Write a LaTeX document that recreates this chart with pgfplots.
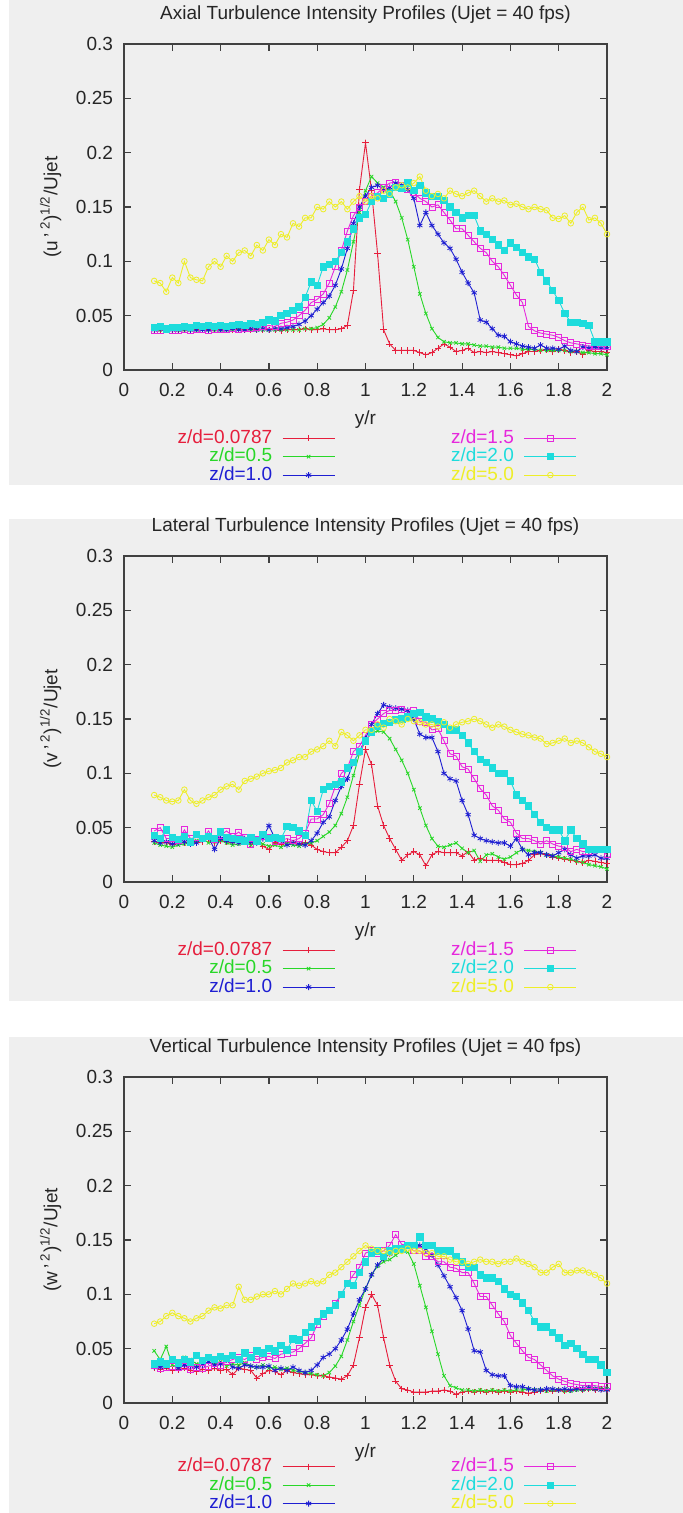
\documentclass[border=0pt]{standalone}
\usepackage{fontspec}
\setmainfont{Liberation Sans}
\usepackage{pgfplots}
\usepackage{pgfplotstable}
\pgfplotsset{compat=1.18}
\definecolor{gpred}{RGB}{230,30,60}
\definecolor{gpgreen}{RGB}{40,215,40}
\definecolor{gpblue}{RGB}{30,30,210}
\definecolor{gpmag}{RGB}{230,40,220}
\definecolor{gpcyan}{RGB}{30,220,220}
\definecolor{gpyel}{RGB}{238,238,40}
\definecolor{panelbg}{RGB}{239,239,239}

% columns: x  z/d=0.0787  0.5  1.0  1.5  2.0  5.0
\pgfplotstableread{
x r g b m c y
0.125 .037 .038 .037 .036 .039 .082
0.150 .037 .037 .038 .036 .040 .080
0.175 .037 .037 .037 .037 .038 .072
0.200 .037 .038 .037 .036 .039 .085
0.225 .037 .037 .037 .036 .039 .080
0.250 .037 .037 .038 .037 .040 .100
0.275 .037 .037 .037 .036 .039 .085
0.300 .037 .037 .037 .037 .041 .083
0.325 .037 .038 .037 .037 .040 .082
0.350 .037 .037 .037 .036 .041 .095
0.375 .037 .037 .038 .037 .040 .100
0.400 .037 .037 .037 .037 .041 .095
0.425 .037 .037 .037 .037 .040 .105
0.450 .037 .037 .038 .038 .041 .100
0.475 .037 .038 .037 .037 .042 .108
0.500 .037 .037 .037 .038 .041 .110
0.525 .037 .037 .038 .038 .043 .105
0.550 .037 .037 .037 .039 .042 .115
0.575 .037 .037 .038 .040 .044 .110
0.600 .037 .037 .037 .041 .046 .120
0.625 .037 .037 .038 .040 .045 .115
0.650 .036 .037 .038 .043 .050 .125
0.675 .037 .037 .039 .044 .052 .122
0.700 .037 .037 .040 .046 .055 .135
0.725 .037 .037 .042 .050 .058 .132
0.750 .038 .038 .045 .055 .067 .140
0.775 .037 .038 .050 .062 .081 .140
0.800 .037 .039 .056 .065 .078 .150
0.825 .038 .042 .062 .070 .095 .148
0.850 .037 .048 .068 .080 .097 .155
0.875 .037 .058 .078 .095 .100 .150
0.900 .038 .072 .093 .110 .108 .155
0.925 .041 .092 .112 .128 .118 .148
0.950 .073 .118 .135 .142 .130 .155
0.975 .166 .145 .150 .150 .140 .160
1.000 .209 .165 .160 .155 .143 .155
1.025 .165 .178 .168 .160 .155 .160
1.050 .107 .172 .170 .163 .160 .158
1.075 .037 .168 .166 .168 .158 .165
1.100 .024 .165 .168 .172 .162 .162
1.125 .018 .155 .172 .173 .168 .168
1.150 .018 .140 .170 .170 .167 .170
1.175 .018 .120 .166 .166 .172 .168
1.200 .018 .095 .158 .163 .165 .172
1.225 .016 .070 .133 .158 .170 .178
1.250 .014 .052 .145 .155 .163 .165
1.275 .016 .038 .133 .150 .160 .160
1.300 .020 .030 .125 .152 .160 .162
1.325 .024 .026 .117 .145 .156 .158
1.350 .021 .025 .112 .138 .150 .165
1.375 .017 .025 .102 .130 .145 .162
1.400 .018 .024 .090 .130 .140 .160
1.425 .020 .024 .080 .124 .142 .163
1.450 .016 .023 .071 .118 .142 .165
1.475 .017 .022 .046 .112 .128 .160
1.500 .016 .022 .044 .108 .125 .155
1.525 .017 .021 .038 .100 .120 .158
1.550 .016 .021 .032 .095 .115 .155
1.575 .015 .020 .031 .087 .110 .156
1.600 .014 .020 .026 .078 .117 .152
1.625 .013 .020 .024 .069 .113 .153
1.650 .015 .019 .022 .062 .108 .150
1.675 .017 .019 .021 .040 .104 .148
1.700 .017 .019 .020 .036 .102 .150
1.725 .018 .018 .023 .034 .090 .148
1.750 .019 .018 .020 .033 .082 .147
1.775 .017 .018 .020 .032 .073 .140
1.800 .019 .018 .019 .030 .064 .139
1.825 .018 .018 .022 .027 .052 .142
1.850 .016 .017 .018 .025 .044 .135
1.875 .017 .017 .017 .024 .044 .145
1.900 .014 .016 .021 .023 .043 .150
1.925 .018 .016 .020 .022 .041 .138
1.950 .017 .015 .021 .022 .026 .140
1.975 .017 .015 .020 .022 .026 .135
2.000 .016 .014 .020 .022 .026 .125
}\tabU

\pgfplotstableread{
x r g b m c y
0.125 .037 .036 .038 .047 .043 .080
0.150 .036 .034 .036 .050 .040 .078
0.175 .036 .033 .037 .040 .048 .075
0.200 .035 .032 .035 .040 .041 .074
0.225 .037 .034 .036 .038 .039 .075
0.250 .036 .035 .037 .048 .042 .085
0.275 .038 .036 .035 .040 .037 .075
0.300 .036 .038 .036 .041 .044 .072
0.325 .037 .040 .039 .040 .040 .075
0.350 .040 .036 .041 .047 .042 .078
0.375 .036 .037 .030 .039 .040 .080
0.400 .038 .038 .040 .043 .046 .085
0.425 .037 .036 .038 .047 .041 .088
0.450 .036 .034 .037 .042 .040 .090
0.475 .037 .035 .036 .046 .039 .085
0.500 .038 .036 .040 .041 .038 .093
0.525 .035 .034 .037 .035 .041 .095
0.550 .037 .036 .036 .039 .038 .097
0.575 .033 .035 .040 .042 .044 .100
0.600 .030 .033 .052 .041 .040 .102
0.625 .036 .034 .040 .037 .041 .103
0.650 .035 .032 .038 .038 .040 .105
0.675 .037 .035 .034 .040 .051 .110
0.700 .036 .034 .036 .038 .050 .112
0.725 .035 .033 .035 .040 .047 .115
0.750 .036 .035 .034 .045 .043 .115
0.775 .034 .036 .038 .058 .075 .120
0.800 .030 .038 .045 .058 .065 .122
0.825 .028 .042 .055 .062 .085 .125
0.850 .027 .046 .060 .072 .088 .130
0.875 .027 .052 .075 .088 .090 .125
0.900 .032 .063 .088 .100 .092 .138
0.925 .038 .078 .095 .105 .105 .135
0.950 .052 .098 .110 .120 .110 .130
0.975 .090 .118 .120 .125 .120 .135
1.000 .122 .130 .132 .135 .130 .140
1.025 .108 .137 .145 .145 .138 .140
1.050 .070 .139 .155 .150 .143 .145
1.075 .052 .138 .163 .155 .146 .142
1.100 .040 .132 .161 .158 .147 .150
1.125 .030 .122 .160 .158 .149 .148
1.150 .020 .112 .159 .159 .150 .145
1.175 .025 .100 .158 .156 .152 .150
1.200 .028 .085 .150 .158 .155 .148
1.225 .025 .068 .136 .148 .156 .147
1.250 .015 .052 .133 .147 .152 .145
1.275 .025 .040 .133 .140 .150 .145
1.300 .028 .033 .120 .141 .148 .143
1.325 .027 .032 .100 .130 .145 .147
1.350 .027 .034 .095 .118 .140 .142
1.375 .027 .036 .093 .116 .140 .145
1.400 .024 .031 .075 .106 .135 .147
1.425 .028 .027 .062 .104 .128 .148
1.450 .020 .029 .043 .095 .120 .150
1.475 .022 .019 .040 .086 .113 .148
1.500 .020 .025 .038 .080 .110 .145
1.525 .020 .026 .037 .070 .105 .142
1.550 .020 .023 .036 .066 .100 .145
1.575 .018 .021 .036 .058 .100 .143
1.600 .016 .023 .033 .055 .093 .140
1.625 .016 .027 .040 .045 .080 .138
1.650 .017 .030 .030 .040 .075 .136
1.675 .020 .029 .025 .040 .070 .135
1.700 .025 .028 .027 .038 .062 .133
1.725 .026 .027 .027 .035 .055 .132
1.750 .025 .025 .025 .038 .050 .127
1.775 .023 .024 .024 .035 .048 .128
1.800 .022 .023 .027 .033 .048 .130
1.825 .021 .022 .030 .032 .038 .132
1.850 .020 .021 .025 .028 .048 .128
1.875 .019 .019 .022 .030 .040 .130
1.900 .018 .018 .024 .028 .035 .128
1.925 .020 .016 .024 .028 .030 .124
1.950 .019 .015 .025 .030 .030 .120
1.975 .018 .014 .022 .030 .030 .118
2.000 .017 .012 .022 .025 .030 .115
}\tabV

\pgfplotstableread{
x r g b m c y
0.125 .032 .048 .033 .035 .036 .073
0.150 .031 .040 .033 .032 .038 .075
0.175 .032 .052 .034 .033 .036 .080
0.200 .030 .035 .040 .034 .040 .083
0.225 .031 .033 .032 .033 .037 .080
0.250 .032 .042 .035 .034 .040 .078
0.275 .030 .040 .034 .031 .038 .075
0.300 .029 .036 .033 .033 .044 .078
0.325 .031 .038 .035 .032 .039 .080
0.350 .030 .040 .038 .034 .042 .085
0.375 .032 .037 .035 .036 .040 .088
0.400 .030 .038 .036 .035 .043 .087
0.425 .031 .034 .040 .038 .041 .090
0.450 .026 .036 .033 .040 .044 .090
0.475 .032 .035 .032 .042 .040 .107
0.500 .031 .037 .035 .040 .046 .095
0.525 .030 .034 .034 .044 .042 .095
0.550 .023 .033 .033 .040 .048 .098
0.575 .027 .035 .033 .042 .046 .100
0.600 .030 .032 .034 .043 .050 .100
0.625 .029 .033 .030 .041 .048 .103
0.650 .026 .031 .032 .045 .053 .100
0.675 .030 .032 .030 .046 .049 .105
0.700 .028 .030 .033 .047 .059 .110
0.725 .027 .029 .030 .050 .058 .108
0.750 .026 .028 .028 .055 .065 .110
0.775 .026 .027 .030 .060 .070 .112
0.800 .025 .026 .035 .072 .075 .110
0.825 .025 .025 .042 .080 .082 .112
0.850 .024 .028 .045 .085 .085 .118
0.875 .023 .034 .050 .092 .090 .120
0.900 .022 .043 .058 .100 .100 .125
0.925 .025 .058 .068 .110 .110 .130
0.950 .035 .075 .082 .118 .108 .135
0.975 .060 .090 .095 .125 .120 .140
1.000 .088 .105 .105 .138 .130 .145
1.025 .100 .118 .118 .140 .138 .142
1.050 .090 .126 .127 .138 .140 .140
1.075 .060 .130 .133 .140 .135 .140
1.100 .035 .132 .137 .145 .140 .138
1.125 .020 .136 .140 .155 .142 .140
1.150 .013 .140 .142 .146 .142 .140
1.175 .012 .139 .145 .145 .145 .142
1.200 .010 .128 .145 .140 .145 .140
1.225 .010 .108 .145 .140 .153 .140
1.250 .010 .088 .141 .135 .145 .138
1.275 .011 .066 .136 .135 .145 .138
1.300 .011 .045 .127 .130 .140 .135
1.325 .012 .025 .117 .130 .140 .135
1.350 .011 .016 .107 .125 .140 .132
1.375 .008 .014 .097 .124 .135 .130
1.400 .010 .012 .085 .120 .130 .130
1.425 .011 .012 .068 .120 .125 .128
1.450 .010 .011 .048 .110 .125 .130
1.475 .011 .012 .047 .098 .118 .132
1.500 .010 .011 .030 .098 .115 .130
1.525 .011 .012 .026 .090 .115 .130
1.550 .010 .011 .025 .082 .112 .128
1.575 .011 .012 .025 .075 .105 .130
1.600 .010 .011 .016 .062 .100 .130
1.625 .011 .012 .015 .055 .098 .133
1.650 .010 .012 .015 .048 .092 .130
1.675 .009 .013 .013 .042 .085 .128
1.700 .010 .012 .012 .040 .075 .125
1.725 .011 .012 .012 .035 .070 .120
1.750 .012 .011 .013 .030 .070 .120
1.775 .011 .012 .013 .025 .065 .125
1.800 .012 .012 .012 .022 .060 .128
1.825 .011 .011 .013 .020 .053 .120
1.850 .012 .011 .012 .018 .055 .120
1.875 .013 .012 .013 .017 .050 .122
1.900 .012 .012 .013 .016 .045 .122
1.925 .013 .013 .014 .016 .040 .120
1.950 .012 .013 .013 .016 .040 .118
1.975 .013 .013 .012 .015 .035 .115
2.000 .012 .013 .012 .015 .028 .110
}\tabW

\newcommand{\fs}{\fontsize{9.5}{11}\selectfont}
\pgfplotsset{
  sR/.style={color=gpred, line width=0.45pt, mark=+, mark size=1.6pt, mark options={line width=0.4pt}},
  sG/.style={color=gpgreen, line width=0.45pt, mark=x, mark size=1.2pt, mark options={line width=0.4pt}},
  sB/.style={color=gpblue, line width=0.45pt, mark=asterisk, mark size=1.5pt, mark options={line width=0.4pt}},
  sM/.style={color=gpmag, line width=0.45pt, mark=square, mark size=1.5pt, mark options={line width=0.4pt}},
  sC/.style={color=gpcyan, line width=0.45pt, mark=square*, mark size=1.6pt, mark options={line width=0.4pt}},
  sY/.style={color=gpyel, line width=0.45pt, mark=o, mark size=1.4pt, mark options={line width=0.4pt}},
  panel/.style={
    scale only axis, width=241.5pt, height=163pt,
    anchor=south west,
    xmin=0, xmax=2, ymin=0, ymax=0.3,
    xtick={0,0.2,0.4,0.6,0.8,1,1.2,1.4,1.6,1.8,2},
    ytick={0,0.05,0.1,0.15,0.2,0.25,0.3},
    tick align=inside, xtick pos=both, ytick pos=both,
    major tick length=3.5pt,
    axis line style={draw=black!75, line width=0.7pt},
    tick style={draw=black!75, line width=0.6pt},
    font=\fs,
    ticklabel style={font=\fs, text=black!85},
    /pgf/number format/assume math mode=true,
    /pgf/number format/fixed,
    /pgf/number format/precision=2,
    xticklabel style={yshift=-3pt},
    yticklabel style={xshift=-2pt},
    every axis title shift=0pt,
    title style={at={(axis description cs:0.5,1.089)}, anchor=center, font=\fs, text=black!85},
    xlabel style={at={(axis description cs:0.5,-0.153)}, anchor=center, font=\fs, text=black!85},
    ylabel style={at={(axis description cs:-0.152,0.5)}, anchor=center, font=\fs, text=black!85},
    xlabel={y/r},
    legend columns=2,
    legend plot pos=right,
    legend cell align=right,
    legend image code/.code={\draw[mark repeat=2,mark phase=2] plot coordinates {(0pt,0pt) (13pt,0pt) (26pt,0pt)};},
    legend style={draw=none, fill=none, at={(axis description cs:0.106,-0.18)}, anchor=north west,
      inner sep=0pt, row sep=0pt, font=\fs,
      nodes={inner ysep=0pt, inner xsep=1pt, text height=7.2pt, text depth=2pt},
      /tikz/every odd column/.append style={column sep=4pt},
      /tikz/every even column/.append style={column sep=57pt}},
  }
}
\newcommand{\plotall}[1]{%
  \addplot[sR, forget plot] table[x=x, y=r] {#1};
  \addplot[sG, forget plot] table[x=x, y=g] {#1};
  \addplot[sB, forget plot] table[x=x, y=b] {#1};
  \addplot[sM, forget plot] table[x=x, y=m] {#1};
  \addplot[sC, forget plot] table[x=x, y=c] {#1};
  \addplot[sY, forget plot] table[x=x, y=y] {#1};
  \addlegendimage{sR}\addlegendentry{\textcolor{gpred}{z/d=0.0787}}
  \addlegendimage{sM}\addlegendentry{\textcolor{gpmag}{z/d=1.5}}
  \addlegendimage{sG}\addlegendentry{\textcolor{gpgreen}{z/d=0.5}}
  \addlegendimage{sC}\addlegendentry{\textcolor{gpcyan}{z/d=2.0}}
  \addlegendimage{sB}\addlegendentry{\textcolor{gpblue}{z/d=1.0}}
  \addlegendimage{sY}\addlegendentry{\textcolor{gpyel}{z/d=5.0}}
}

\begin{document}
\begin{tikzpicture}
\fill[white] (0pt,0pt) rectangle (341.5pt,-756.5pt);
\fill[panelbg] (4.5pt,0pt) rectangle (341.5pt,-242.5pt);
\fill[panelbg] (4.5pt,-259.5pt) rectangle (341.5pt,-500.5pt);
\fill[panelbg] (4.5pt,-518.5pt) rectangle (341.5pt,-756.5pt);

\begin{axis}[panel, at={(62pt,-185pt)},
  title={Axial Turbulence Intensity Profiles (Ujet = 40 fps)},
  ylabel={(u\,'\,\textsuperscript{2})\textsuperscript{1/2}/Ujet}]
\plotall{\tabU}
\end{axis}

\begin{axis}[panel, at={(62pt,-441pt)},
  title={Lateral Turbulence Intensity Profiles (Ujet = 40 fps)},
  ylabel={(v\,'\,\textsuperscript{2})\textsuperscript{1/2}/Ujet}]
\plotall{\tabV}
\end{axis}

\begin{axis}[panel, at={(62pt,-701.5pt)},
  title={Vertical Turbulence Intensity Profiles (Ujet = 40 fps)},
  ylabel={(w\,'\,\textsuperscript{2})\textsuperscript{1/2}/Ujet},
  legend style={at={(axis description cs:0.106,-0.166)}}]
\plotall{\tabW}
\end{axis}
\pgfresetboundingbox
\path[use as bounding box] (0pt,0pt) rectangle (341.5pt,-756.5pt);
\end{tikzpicture}
\end{document}
